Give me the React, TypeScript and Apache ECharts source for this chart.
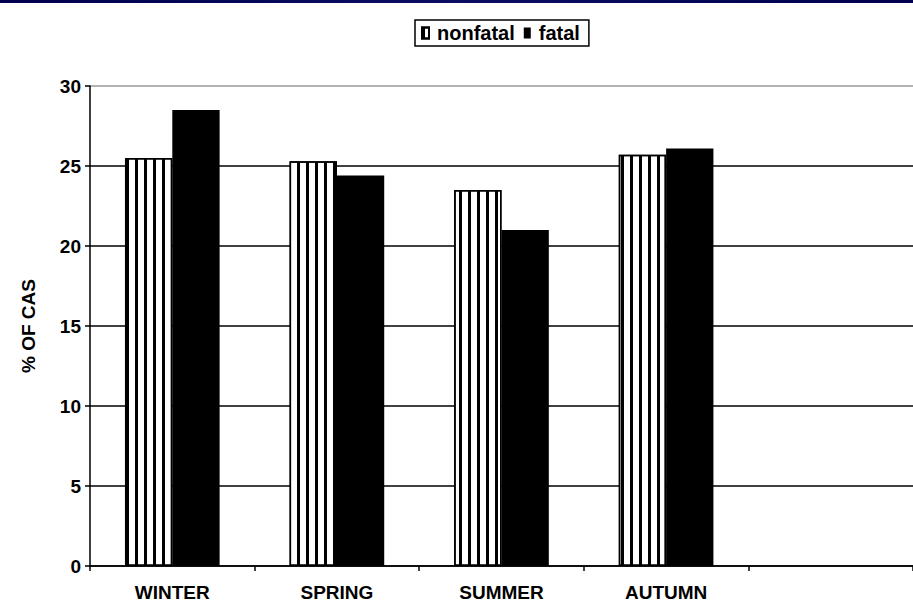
import React, { useEffect, useRef } from "react";
import * as echarts from "echarts";

const categories = ["WINTER", "SPRING", "SUMMER", "AUTUMN", ""];
const nonfatal = [25.5, 25.3, 23.5, 25.7, null];
const fatal = [28.5, 24.4, 21.0, 26.1, null];
const yTicks = { min: 0, max: 30, interval: 5 };

export default function App() {
  const ref = useRef<HTMLDivElement>(null);
  useEffect(() => {
    if (!ref.current) return;
    const chart = echarts.init(ref.current, null, { renderer: "svg" });
    const font = "Arial, 'Liberation Sans', sans-serif";
    chart.setOption({
      animation: false,
      backgroundColor: "#ffffff",
      graphic: [
        {
          type: "rect",
          left: 0,
          top: 0,
          shape: { width: 913, height: 3 },
          style: {
            fill: new echarts.graphic.LinearGradient(0, 0, 1, 0, [
              { offset: 0, color: "#00004e" },
              { offset: 0.5, color: "#0c0c62" },
              { offset: 1, color: "#00004e" },
            ]),
          },
        },
      ],
      legend: {
        left: 415,
        top: 20,
        padding: [3, 9, 3, 6],
        borderColor: "#000",
        borderWidth: 1.5,
        icon: "rect",
        itemWidth: 7,
        itemHeight: 11,
        itemGap: 9,
        textStyle: { fontFamily: font, fontWeight: "bold", fontSize: 20, color: "#000", padding: [0, 0, 0, 3] },
        data: ["nonfatal", "fatal"],
      },
      grid: { left: 90, top: 86, width: 835, bottom: 39, containLabel: false },
      xAxis: {
        type: "category",
        data: categories,
        axisLine: { lineStyle: { color: "#000", width: 1.5 } },
        axisTick: { show: true, inside: false, length: 5, lineStyle: { color: "#000", width: 1.5 } },
        axisLabel: { fontFamily: font, fontWeight: "bold", fontSize: 19, color: "#000", margin: 17 },
        splitLine: { show: false },
      },
      yAxis: {
        type: "value",
        min: yTicks.min,
        max: yTicks.max,
        interval: yTicks.interval,
        name: "% OF CAS",
        nameLocation: "middle",
        nameGap: 52,
        nameRotate: 90,
        nameTextStyle: { fontFamily: font, fontWeight: "bold", fontSize: 19, color: "#000" },
        axisLine: { show: true, lineStyle: { color: "#000", width: 1.5 } },
        axisTick: { show: true, inside: false, length: 5, lineStyle: { color: "#000", width: 1.5 } },
        axisLabel: { fontFamily: font, fontWeight: "bold", fontSize: 19, color: "#000", margin: 9 },
        splitLine: {
          show: true,
          lineStyle: {
            color: ["#000", "#000", "#000", "#000", "#000", "#000", "#999"],
            width: 1.5,
          },
        },
      },
      series: [
        {
          name: "nonfatal",
          type: "bar",
          data: nonfatal,
          barGap: "0%",
          barCategoryGap: "42.5%",
          itemStyle: {
            color: "#ffffff",
            borderColor: "#000",
            borderWidth: 1.5,
            decal: {
              symbol: "rect",
              symbolSize: 1,
              color: "#000",
              backgroundColor: "#ffffff",
              dashArrayX: [2.5, 5.5],
              dashArrayY: [4, 0],
              rotation: 0,
            },
          },
        },
        {
          name: "fatal",
          type: "bar",
          data: fatal,
          barGap: "0%",
          barCategoryGap: "42.5%",
          itemStyle: { color: "#000", borderColor: "#000", borderWidth: 0 },
        },
      ],
    });
    return () => chart.dispose();
  }, []);
  return (
    <div
      ref={ref}
      style={{ position: "fixed", left: 0, top: 0, width: 913, height: 605 }}
    />
  );
}
